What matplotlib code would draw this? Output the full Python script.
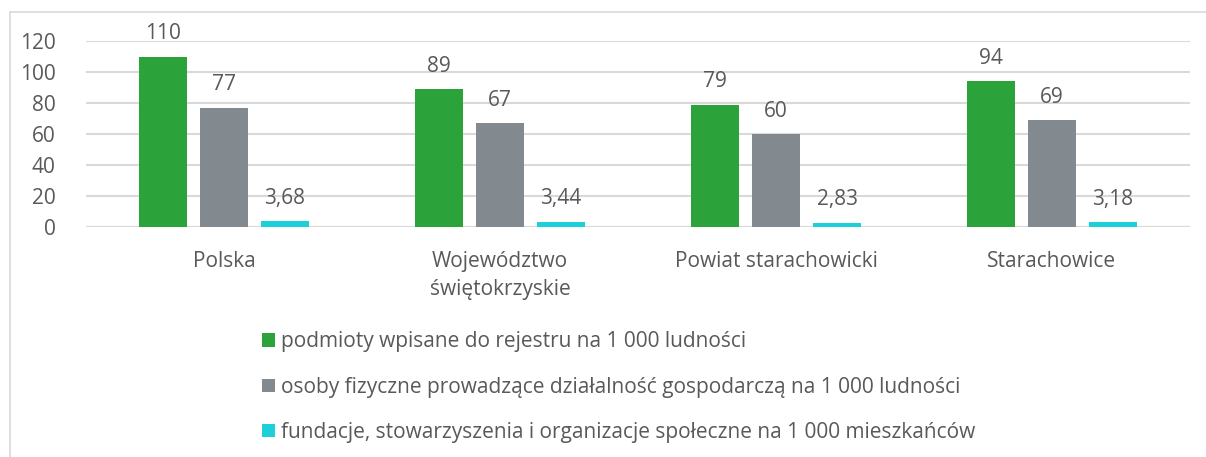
import matplotlib
matplotlib.use("Agg")
import matplotlib.pyplot as plt
from matplotlib.lines import Line2D
from matplotlib.patches import Patch
import numpy as np

categories = ["Polska", "Województwo\nświętokrzyskie", "Powiat starachowicki", "Starachowice"]
series_names = [
    "podmioty wpisane do rejestru na 1 000 ludności",
    "osoby fizyczne prowadzące działalność gospodarczą na 1 000 ludności",
    "fundacje, stowarzyszenia i organizacje społeczne na 1 000 mieszkańców",
]
podmioty = [110, 89, 79, 94]
osoby = [77, 67, 60, 69]
fundacje = [3.68, 3.44, 2.83, 3.18]
podmioty_labels = ["110", "89", "79", "94"]
osoby_labels = ["77", "67", "60", "69"]
fundacje_labels = ["3,68", "3,44", "2,83", "3,18"]
colors = ["#2ca33a", "#828a90", "#1ccfd8"]
yticks = [0, 20, 40, 60, 80, 100, 120]

plt.rcParams['font.family'] = ['Open Sans', 'DejaVu Sans']
txt = "#595959"
fs = 15
W, H = 1206, 457
fig = plt.figure(figsize=(W / 100, H / 100), dpi=100)
ax = fig.add_axes([86 / W, (H - 227) / H, (1190 - 86) / W, (227 - 41) / H])

x = np.arange(len(categories))
bw = 48 / 276
off = 61 / 276
data = [podmioty, osoby, fundacje]
labels = [podmioty_labels, osoby_labels, fundacje_labels]
for i, (vals, labs, c) in enumerate(zip(data, labels, colors)):
    xs = x + (i - 1) * off
    ax.bar(xs, vals, width=bw, color=c, zorder=3)
    for xi, v, lab in zip(xs, vals, labs):
        ax.annotate(lab, (xi, v), xytext=(0, 16.5), textcoords="offset points",
                    ha="center", va="center", fontsize=fs, color=txt,
                    annotation_clip=False)

ax.set_xlim(-0.5, len(categories) - 0.5)
ax.set_ylim(0, 120)
ax.set_yticks(yticks)
ax.set_yticklabels([str(t) for t in yticks], fontsize=fs, color=txt)
ax.set_xticks(x)
ax.set_xticklabels(categories, fontsize=fs, color=txt, linespacing=1.45, va="top")
ax.tick_params(axis="x", length=0, pad=17)
ax.tick_params(axis="y", length=0, pad=22)
ax.grid(axis="y", color="#d9d9d9", linewidth=1.5, zorder=0)
for s in ax.spines.values():
    s.set_visible(False)
ax.axhline(0, color="#d9d9d9", linewidth=1.5, zorder=2)

# legend
handles = [Patch(facecolor=c, edgecolor="none") for c in colors]
leg = fig.legend(handles, series_names, loc="upper left",
                 bbox_to_anchor=(254 / W, 1 - 323 / H), frameon=False,
                 fontsize=fs, labelcolor=txt, handlelength=0.6, handleheight=0.6,
                 handletextpad=0.3, labelspacing=1.17, borderaxespad=0)

# chart border
fig.add_artist(Line2D([10 / W, 10 / W], [0, 1 - 12 / H], color="#d9d9d9", lw=1.2))
fig.add_artist(Line2D([10 / W, 1], [1 - 12 / H, 1 - 12 / H], color="#d9d9d9", lw=1.2))

fig.savefig("out.png", dpi=100)
